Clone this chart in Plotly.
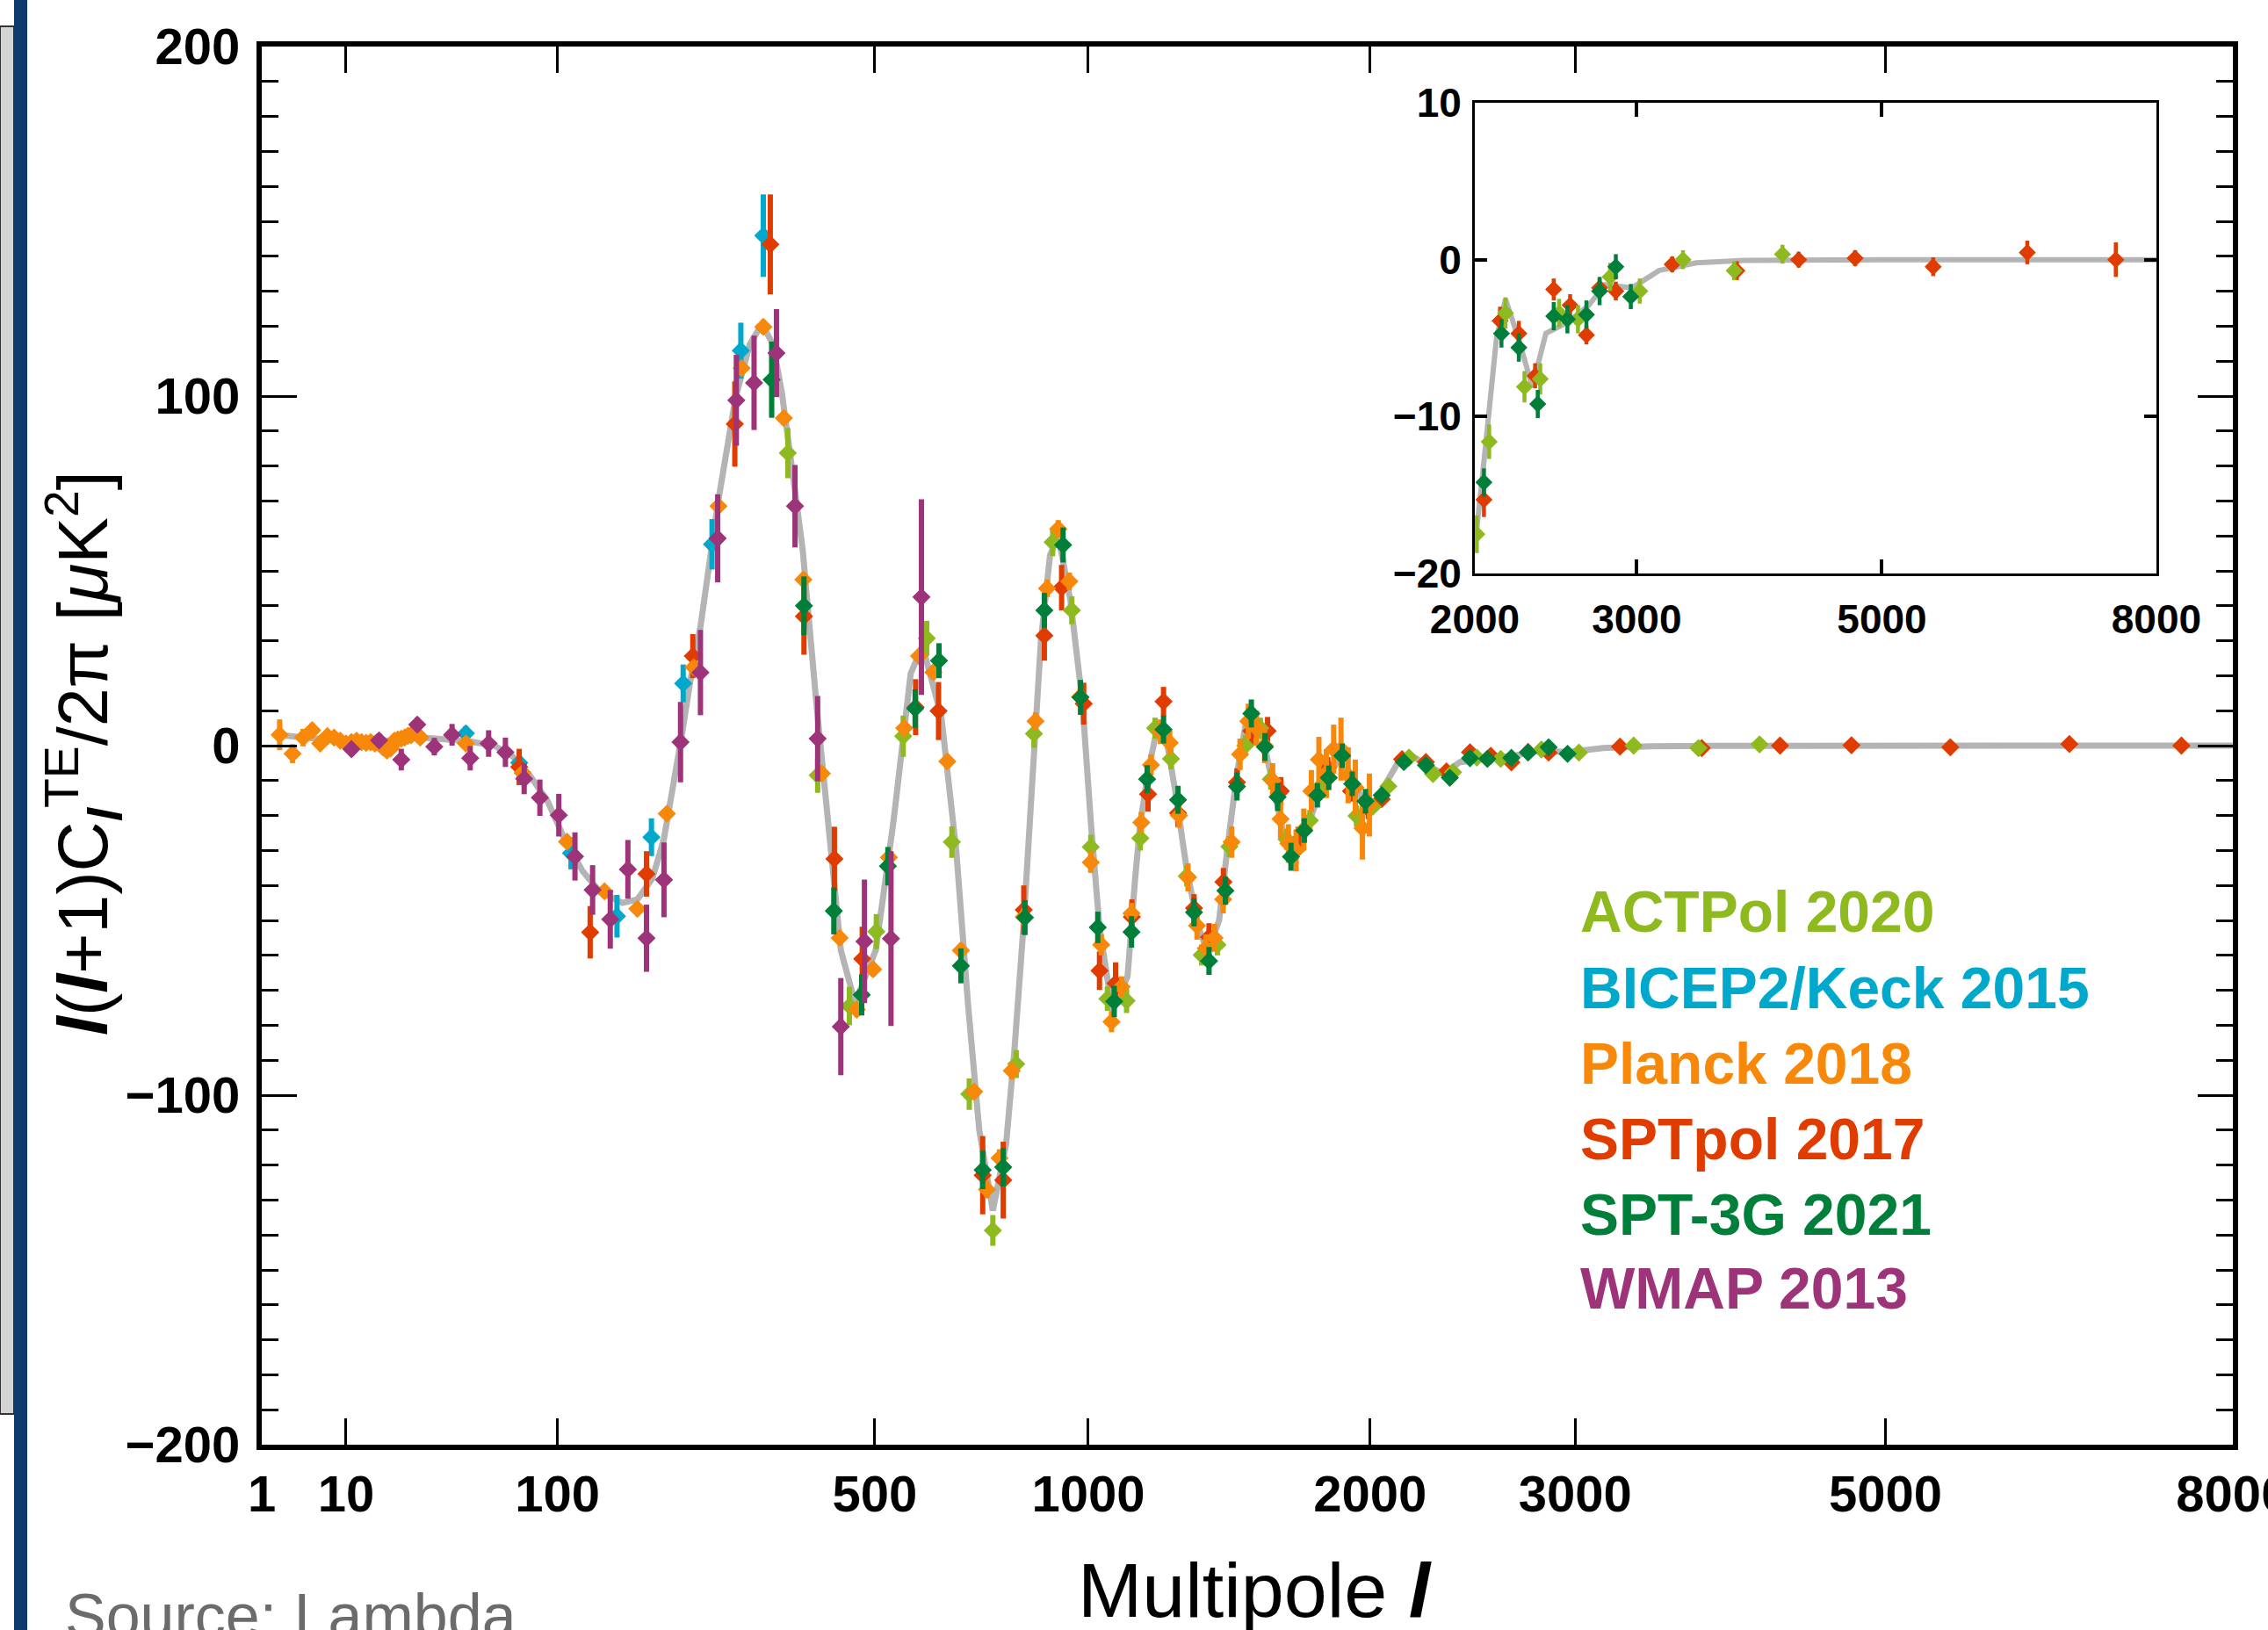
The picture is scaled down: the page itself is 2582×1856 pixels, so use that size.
import plotly.graph_objects as go

W, H = 2582, 1856

# ---------------- data ----------------
X_TICKS = [1, 10, 100, 500, 1000, 2000, 3000, 5000, 8000]
INSET_X_TICKS = [2000, 3000, 5000, 8000]

THEORY_L = [2, 4, 10, 20, 29, 47, 61, 71, 81, 93, 105, 119, 133, 153, 167, 182, 194, 204,
            213, 223, 235, 256, 279, 298, 315, 331, 344, 364, 376, 398, 419, 439, 464, 502,
            536, 570, 594, 634, 667, 693, 719, 751, 783, 803, 826, 848, 871, 895, 917, 950,
            983, 1008, 1032, 1070, 1115, 1138, 1153, 1177, 1209, 1236, 1265, 1303, 1342,
            1373, 1413, 1444, 1476, 1506, 1534, 1571, 1615, 1649, 1683, 1729, 1775, 1823,
            1870, 1919, 1968, 1998, 2040, 2079, 2120, 2171, 2248, 2327, 2409, 2542, 2679,
            2784, 2967, 3156, 3430, 3800, 4300, 5000, 6000, 7000, 8000]
THEORY_V = [3.1, 2.3, 1.4, 1.5, 2.3, 1.4, 0.0, -3.0, -8.2, -15.7, -26.6, -35.9, -41.8, -45.0,
            -44.0, -38.0, -26.6, -12.4, 2.3, 18.3, 34.0, 69.0, 99.6, 114.8, 120.6, 114.8, 101.0,
            73.0, 56.0, 12.0, -25.0, -58.5, -73.6, -58.5, -21.5, 20.6, 28.6, 8.4, -30.5, -73.8,
            -110.0, -133.0, -114.0, -88.0, -52.0, -9.0, 30.0, 54.5, 60.0, 41.6, 12.8, -23.0,
            -52.0, -76.0, -66.0, -38.0, -23.0, -8.0, 6.0, 2.0, -13.0, -35.6, -52.0, -59.0,
            -50.0, -28.0, -8.0, 5.5, 9.6, 2.0, -13.0, -25.5, -32.0, -26.0, -16.3, -9.0, -3.8,
            -9.0, -15.5, -18.5, -14.0, -9.2, -5.0, -2.5, -5.1, -8.1, -4.7, -4.0, -2.9, -1.6,
            -1.8, -0.7, -0.2, -0.05, 0.0, 0.0, 0.0, 0.0, 0.0]

ACT_L = [353, 400, 454, 503, 555, 603, 657, 696, 751, 808, 853, 902, 954, 1007, 1055, 1112,
         1154, 1200, 1251, 1303, 1353, 1407, 1449, 1506, 1561, 1600, 1660, 1751, 1798, 1942,
         2011, 2079, 2171, 2281, 2375, 2490, 2609, 2819, 3021, 3331, 3722, 4115]
ACT_V = [83.7, -8.5, -74.5, -53.2, 2.7, 30.7, -27.6, -99.7, -138.7, -91.1, 3.4, 58.2, 38.7,
         -29.0, -72.4, -73.0, -26.5, 5.0, -3.8, -37.3, -59.9, -57.0, -28.9, 0.0, 5.0, -9.6,
         -26.8, -21.4, -11.3, -20.1, -17.5, -11.6, -3.4, -8.1, -7.6, -3.4, -3.8, -1.1, -2.0,
         0.0, -0.7, 0.35]
ACT_E = [7.2, 5.0, 5.5, 5.0, 5.9, 5.0, 4.5, 4.5, 4.4, 4.0, 4.0, 4.0, 4.0, 3.5, 3.5, 3.5, 3.5,
         3.0, 3.0, 3.0, 3.0, 3.0, 3.0, 3.0, 3.0, 3.0, 3.0, 3.0, 3.0, 3.0, 1.2, 1.1, 1.0, 1.0,
         1.0, 0.9, 0.9, 0.9, 0.8, 0.6, 0.6, 0.6]

BK_L = [47, 75, 110, 148, 181, 215, 249, 286, 317]
BK_V = [3.5, -4.9, -30.8, -48.8, -26.2, 17.8, 57.6, 113.0, 145.9]
BK_E = [2.1, 3.1, 4.6, 6.1, 5.4, 5.4, 7.2, 8.0, 11.8]

PLANCK_L = [2, 3, 4, 5, 6, 7, 8, 9, 10, 11, 12, 13, 14, 15, 16, 17, 18, 19, 20, 21, 22, 23,
            24, 25, 26, 27, 28, 29,
            47, 77, 107, 137, 167, 197, 227, 257, 287, 317, 347, 377, 407, 437, 467, 497,
            527, 557, 587, 617, 647, 677, 707, 737, 767, 797, 827, 857, 887, 917, 947, 977,
            1007, 1037, 1067, 1097, 1127, 1157, 1187, 1217, 1247, 1277, 1307, 1337, 1367,
            1397, 1427, 1457, 1487, 1517, 1547, 1577, 1607, 1637, 1667, 1697, 1727, 1757,
            1787, 1817, 1847, 1877, 1907, 1937, 1967, 1997]
PLANCK_V = [3.1, -2.3, 2.3, 4.4, 0.6, 2.7, 2.3, 1.4, 0.6, 1.0, 1.4, 1.0, 0.8, 1.0, 0.6, 0.6,
            -0.5, -1.4, -0.8, 1.4, 1.8, 2.0, 2.3, 2.8, 3.0, 4.0, 3.2, 2.3,
            0.6, -7.8, -27.5, -41.7, -46.7, -19.5, 22.4, 68.5, 108.0, 119.8, 93.7, 47.5,
            -8.0, -55.0, -75.5, -64.0, -32.0, 5.0, 25.6, 21.0, -4.5, -58.6, -99.0, -127.0,
            -118.0, -93.0, -49.0, 7.0, 45.0, 62.0, 47.0, 14.0, -33.4, -57.0, -79.0, -69.0,
            -48.0, -22.0, -5.5, 4.0, 0.8, -20.0, -37.7, -51.5, -58.0, -55.0, -44.0, -27.6,
            -2.5, 7.0, 5.0, 0.0, -10.0, -21.0, -28.0, -30.0, -24.0, -13.0, -4.0, -8.0, -1.0,
            -1.0, -8.5, -12.0, -23.6, -17.0]
PLANCK_E = [4.4, 2.7, 2.5, 2.0, 1.5, 1.5, 1.5, 1.5, 1.3, 1.3, 1.3, 1.3, 1.2, 1.2, 1.2, 1.2,
            1.2, 1.2, 1.2, 1.2, 1.2, 1.2, 1.2, 1.2, 1.2, 1.2, 1.2, 1.2,
            1.0, 1.2, 1.5, 1.5, 1.5, 1.5, 1.5, 1.8, 2.0, 2.0, 2.0, 2.0, 2.0, 2.0, 2.0, 2.0,
            2.0, 2.0, 2.0, 2.0, 2.0, 2.0, 2.0, 2.5, 2.5, 2.5, 2.5, 2.5, 2.5, 2.5, 2.5, 2.5,
            3.0, 3.0, 3.0, 3.0, 3.0, 3.0, 3.0, 3.5, 3.5, 3.5, 4.0, 4.0, 4.0, 4.0, 4.0, 4.5,
            4.5, 5.0, 5.0, 5.0, 5.0, 5.5, 5.5, 6.0, 6.0, 6.0, 6.5, 7.0, 7.0, 9.0, 8.0, 8.0,
            9.0, 9.0]

SPTPOL_L = [75, 125, 176, 226, 278, 327, 378, 428, 477, 580, 628, 727, 776, 827, 880, 926,
            987, 1032, 1079, 1128, 1178, 1227, 1274, 1327, 1378, 1428, 1476, 1528, 1588, 1638,
            1705, 1823, 1919, 1992, 2050, 2140, 2248, 2344, 2457, 2559, 2663, 2749, 2857,
            3252, 3743, 4252, 4751, 5497, 6484, 7503]
SPTPOL_V = [-6.1, -53.4, -36.7, 25.6, 92.0, 143.4, 37.0, -32.4, -61.0, 11.0, 9.9, -122.9,
            -124.3, -47.0, 31.5, 45.2, 12.0, -64.4, -68.0, -49.0, -13.9, 12.6, -19.3, -46.5,
            -54.8, -39.0, -10.5, 4.2, 4.2, -13.0, -27.2, -6.3, -13.0, -18.0, -15.3, -3.9, -4.7,
            -7.4, -1.9, -2.9, -4.8, -1.8, -2.0, -0.3, -0.7, 0.0, 0.1, -0.45, 0.46, 0.0]
SPTPOL_E = [5.2, 7.5, 6.5, 6.3, 12.2, 14.3, 11.0, 9.2, 9.2, 8.0, 8.3, 11.2, 11.0, 7.0, 7.2,
            6.5, 6.0, 5.5, 6.0, 5.0, 5.0, 4.2, 4.0, 4.0, 4.0, 4.0, 4.0, 4.0, 4.0, 4.0, 4.0,
            3.0, 3.0, 3.0, 1.1, 0.9, 0.8, 0.8, 0.7, 0.7, 0.6, 0.6, 0.6, 0.5, 0.6, 0.5, 0.5,
            0.6, 0.75, 1.1]

SPT3G_L = [329, 378, 427, 476, 525, 579, 629, 677, 727, 776, 830, 880, 930, 978, 1027, 1075,
           1127, 1175, 1227, 1274, 1327, 1378, 1435, 1476, 1528, 1578, 1626, 1677, 1729, 1781,
           1827, 1882, 1924, 1980, 2050, 2148, 2248, 2360, 2457, 2542, 2663, 2749, 2857, 2959]
SPT3G_V = [104.7, 40.0, -47.3, -71.3, -34.5, 10.6, 24.3, -63.0, -121.4, -120.6, -49.2, 38.7,
           57.4, 13.8, -52.0, -73.2, -53.3, -9.6, 4.6, -15.5, -47.7, -61.6, -41.5, -11.7, 9.2,
           -0.4, -14.7, -31.8, -24.3, -14.2, -9.2, -2.9, -10.9, -15.9, -14.2, -4.7, -5.6, -9.2,
           -3.6, -3.8, -3.5, -2.0, -0.45, -2.35]
SPT3G_E = [10.9, 8.4, 6.7, 5.9, 5.5, 5.5, 5.0, 5.0, 5.5, 5.5, 5.0, 5.0, 5.0, 5.0, 4.5, 4.5,
           4.5, 4.0, 4.0, 4.0, 4.0, 4.0, 4.0, 4.0, 4.0, 4.0, 4.0, 4.0, 3.5, 3.5, 3.5, 3.5, 3.5,
           3.5, 0.9, 0.9, 0.9, 0.9, 0.9, 0.9, 0.9, 0.9, 0.8, 0.8]

WMAP_L = [11, 17, 23, 28, 34, 41, 49, 58, 67, 78, 88, 101, 113, 127, 142, 158, 176, 194, 212,
          235, 256, 280, 304, 336, 364, 400, 439, 481, 531, 592]
WMAP_V = [-1.0, 1.5, -4.0, 6.0, -0.3, 3.1, -3.6, 0.6, -1.9, -9.5, -14.9, -19.9, -31.7, -41.3,
          -49.7, -35.4, -55.1, -38.4, 1.0, 20.9, 59.3, 98.8, 103.8, 112.3, 68.5, 2.0, -80.4,
          -56.0, -55.2, 42.5]
WMAP_E = [2.0, 2.0, 3.1, 2.0, 2.5, 3.1, 3.5, 3.8, 4.2, 4.4, 5.2, 6.1, 6.9, 7.1, 8.4, 8.4, 9.6,
          10.7, 11.5, 12.2, 12.6, 13.0, 13.5, 12.6, 11.8, 12.2, 13.9, 17.7, 25.0, 28.0]

LEGEND_NAMES = ["ACTPol 2020", "BICEP2/Keck 2015", "Planck 2018", "SPTpol 2017",
                "SPT-3G 2021", "WMAP 2013"]
COLORS = {"ACTPol 2020": "#8fba1f", "BICEP2/Keck 2015": "#00a8cc", "Planck 2018": "#f7880a",
          "SPTpol 2017": "#e03c00", "SPT-3G 2021": "#007f3b", "WMAP 2013": "#9d3479"}

# ---------------- scale: axis position = l ** 0.4 ----------------
def sx(vals):
    return [v ** 0.4 for v in vals]


def fx(p):
    return p / W


def fy(p):
    return 1 - p / H


fig = go.Figure()

THEORY_COLOR = "#b4b4b4"
fig.add_trace(go.Scatter(x=sx(THEORY_L), y=THEORY_V, mode="lines",
                         line=dict(color=THEORY_COLOR, width=7), hoverinfo="skip",
                         showlegend=False, xaxis="x", yaxis="y"))

datasets = [
    ("BICEP2/Keck 2015", BK_L, BK_V, BK_E),
    ("SPTpol 2017", SPTPOL_L, SPTPOL_V, SPTPOL_E),
    ("ACTPol 2020", ACT_L, ACT_V, ACT_E),
    ("Planck 2018", PLANCK_L, PLANCK_V, PLANCK_E),
    ("SPT-3G 2021", SPT3G_L, SPT3G_V, SPT3G_E),
    ("WMAP 2013", WMAP_L, WMAP_V, WMAP_E),
]

for name, L, V, E in datasets:
    c = COLORS[name]
    fig.add_trace(go.Scatter(
        x=sx(L), y=V, mode="markers", name=name, showlegend=False,
        marker=dict(symbol="diamond", size=16, color=c, line=dict(width=0)),
        error_y=dict(type="data", array=E, thickness=6, width=0, color=c),
        xaxis="x", yaxis="y"))

# inset
fig.add_trace(go.Scatter(x=sx(THEORY_L), y=THEORY_V, mode="lines",
                         line=dict(color=THEORY_COLOR, width=6), hoverinfo="skip",
                         showlegend=False, xaxis="x2", yaxis="y2"))
for name, L, V, E in datasets:
    if name not in ("ACTPol 2020", "SPTpol 2017", "SPT-3G 2021"):
        continue
    c = COLORS[name]
    sel = [i for i, l in enumerate(L) if l >= 1995]
    fig.add_trace(go.Scatter(
        x=sx([L[i] for i in sel]), y=[V[i] for i in sel], mode="markers", showlegend=False,
        marker=dict(symbol="diamond", size=15, color=c, line=dict(width=0)),
        error_y=dict(type="data", array=[E[i] for i in sel], thickness=4.5, width=0, color=c),
        xaxis="x2", yaxis="y2"))

TICKFONT = dict(family="Liberation Sans, Arial, sans-serif", size=58, color="black",
                weight="bold")
INSET_TICKFONT = dict(family="Liberation Sans, Arial, sans-serif", size=46, color="black",
                      weight="bold")

u_lo, u_hi = 1 ** 0.4, 8000 ** 0.4

fig.update_layout(
    width=W, height=H,
    margin=dict(l=0, r=0, t=0, b=0, pad=0),
    paper_bgcolor="white", plot_bgcolor="white",
    showlegend=False,
    xaxis=dict(domain=[fx(298), fx(2542)], range=[u_lo - 0.002, u_hi + 0.002],
               tickmode="array", tickvals=sx(X_TICKS), ticktext=[str(t) for t in X_TICKS],
               ticks="inside", ticklen=30, tickwidth=3, tickcolor="black",
               showline=True, linewidth=6, linecolor="black", mirror="ticks",
               showgrid=False, zeroline=False, tickfont=TICKFONT, ticklabelstandoff=0,
               ticklabeloverflow="allow", automargin=False, anchor="y"),
    yaxis=dict(domain=[fy(1645), fy(53)], range=[-200, 200], tick0=0, dtick=100,
               ticks="inside", ticklen=40, tickwidth=3, tickcolor="black",
               minor=dict(dtick=10, tick0=0, ticks="inside", ticklen=19, tickwidth=3,
                          tickcolor="black", showgrid=False),
               showline=True, linewidth=6, linecolor="black", mirror="ticks",
               showgrid=False, zeroline=False, tickfont=TICKFONT, ticklabelstandoff=7,
               ticklabeloverflow="allow", automargin=False, anchor="x"),
    xaxis2=dict(domain=[fx(1679), fx(2455)], range=[2000 ** 0.4, 8000 ** 0.4 + 0.002],
                tickmode="array", tickvals=sx(INSET_X_TICKS),
                ticktext=[str(t) for t in INSET_X_TICKS],
                ticks="inside", ticklen=16, tickwidth=3.5, tickcolor="black",
                showline=True, linewidth=3, linecolor="black", mirror="ticks",
                showgrid=False, zeroline=False, tickfont=INSET_TICKFONT,
                ticklabelstandoff=10, ticklabeloverflow="allow", automargin=False,
                anchor="y2"),
    yaxis2=dict(domain=[fy(653), fy(117)], range=[-20, 10], tick0=0, dtick=10,
                ticks="inside", ticklen=14, tickwidth=3.5, tickcolor="black",
                showline=True, linewidth=3, linecolor="black", mirror="ticks",
                showgrid=False, zeroline=False, tickfont=INSET_TICKFONT,
                ticklabelstandoff=3, ticklabeloverflow="allow", automargin=False,
                anchor="x2"),
)

annotations = []
# axis titles
annotations.append(dict(
    text="<b><i>l</i></b>(<b><i>l</i></b>+1)C<sub><b><i>l</i></b></sub><sup>TE</sup>/2π [<i>μ</i>K<sup>2</sup>]",
    x=fx(95), y=fy(858), xref="paper", yref="paper", xanchor="center", yanchor="middle",
    textangle=-90, showarrow=False,
    font=dict(family="Liberation Sans, Arial, sans-serif", size=79, color="black")))
annotations.append(dict(
    text="Multipole <b><i>l</i></b>", x=fx(1428), y=fy(1810), xref="paper", yref="paper",
    xanchor="center", yanchor="middle", showarrow=False,
    font=dict(family="Liberation Sans, Arial, sans-serif", size=88, color="black")))
# legend as coloured text
legend_y = [1038, 1125, 1211, 1297, 1383, 1467]
for name, yy in zip(LEGEND_NAMES, legend_y):
    annotations.append(dict(
        text=name, x=fx(1797), y=fy(yy), xref="paper", yref="paper", xanchor="left",
        yanchor="middle", showarrow=False,
        font=dict(family="Liberation Sans, Arial, sans-serif", size=66,
                  color=COLORS[name], weight="bold")))
# source caption (cut by the page edge as in the reference)
annotations.append(dict(
    text="Source: Lambda", x=fx(72), y=fy(1840), xref="paper", yref="paper",
    xanchor="left", yanchor="middle", showarrow=False,
    font=dict(family="Liberation Sans, Arial, sans-serif", size=70, color="#6b6b6b")))
fig.update_layout(annotations=annotations)

# page-frame decorations at the left edge
fig.update_layout(shapes=[
    dict(type="rect", xref="paper", yref="paper", x0=0, x1=fx(16), y0=fy(1610), y1=fy(30),
         fillcolor="#d4d4d4", line=dict(color="#333333", width=2), layer="above"),
    dict(type="rect", xref="paper", yref="paper", x0=fx(16), x1=fx(31), y0=0, y1=1,
         fillcolor="#0c3a6b", line=dict(width=0), layer="above"),
])

fig.write_html("out.html")
